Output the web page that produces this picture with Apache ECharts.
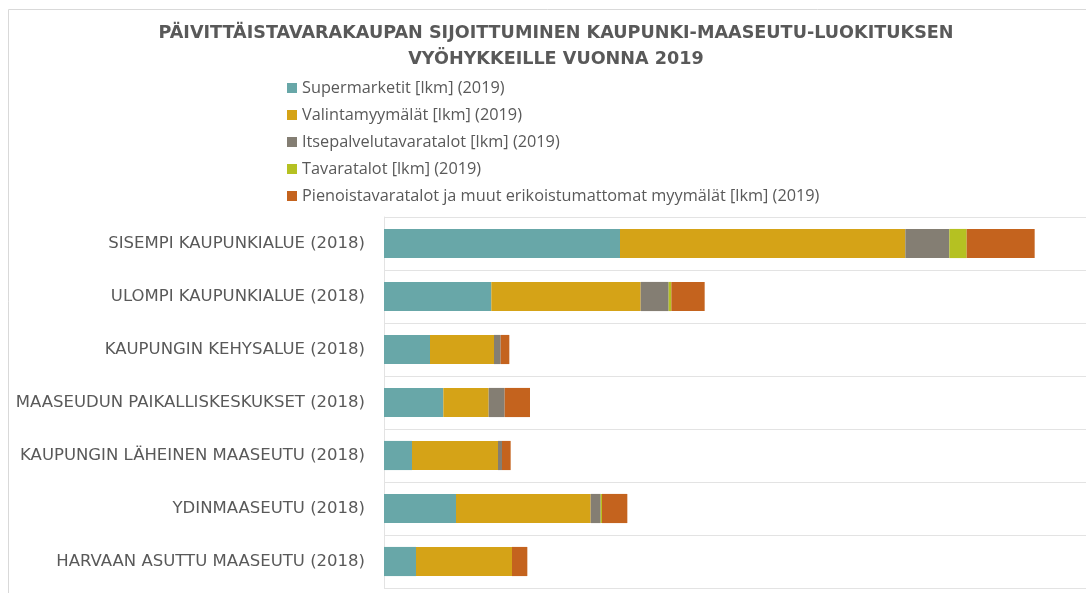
<!DOCTYPE html>
<html>
<head>
<meta charset="utf-8">
<script src="https://cdn.jsdelivr.net/npm/echarts@6/dist/echarts.min.js"></script>
<style>
  html, body { margin: 0; padding: 0; background: #fff; }
  #chart { width: 1086px; height: 593px; }
</style>
</head>
<body>
<div id="chart"></div>
<script>
// Alueluokat (ylhäältä alas)
const categories = [
  'SISEMPI KAUPUNKIALUE (2018)',
  'ULOMPI KAUPUNKIALUE (2018)',
  'KAUPUNGIN KEHYSALUE (2018)',
  'MAASEUDUN PAIKALLISKESKUKSET (2018)',
  'KAUPUNGIN LÄHEINEN MAASEUTU (2018)',
  'YDINMAASEUTU (2018)',
  'HARVAAN ASUTTU MAASEUTU (2018)'
]
const seriesNames = [
  'Supermarketit [lkm] (2019)',
  'Valintamyymälät [lkm] (2019)',
  'Itsepalvelutavaratalot [lkm] (2019)',
  'Tavaratalot [lkm] (2019)',
  'Pienoistavaratalot ja muut erikoistumattomat myymälät [lkm] (2019)'
]
// arvot luettu kuvasta (arvioita)
const supermarketit = [354, 161, 69, 89, 42, 108, 48]
const valintamyymalat = [428, 224, 96, 68, 129, 202, 144]
const itsepalvelu = [66, 42, 10, 24, 6, 15, 0]
const tavaratalot = [26, 4, 0, 0, 0, 2, 0]
const pienoistavaratalot = [102, 50, 13, 38, 13, 38, 23]

const colors = ['#68a7a8', '#d5a317', '#847e73', '#b5c122', '#c4631e']
const values = [supermarketit, valintamyymalat, itsepalvelu, tavaratalot, pienoistavaratalot]

let myChart = echarts.init(document.getElementById('chart'))

let option = {
  animation: false,
  color: colors,
  graphic: [{
    type: 'rect',
    shape: { x: 8.5, y: 9.5, width: 1100, height: 600 },
    style: { fill: 'none', stroke: '#d9d9d9', lineWidth: 1 },
    silent: true
  }],
  title: {
    text: 'PÄIVITTÄISTAVARAKAUPAN SIJOITTUMINEN KAUPUNKI-MAASEUTU-LUOKITUKSEN\nVYÖHYKKEILLE VUONNA 2019',
    left: 551,
    textAlign: 'center',
    top: 15,
    textStyle: {
      fontFamily: 'DejaVu Sans',
      fontWeight: 'bold',
      fontSize: 17.6,
      lineHeight: 26,
      color: '#595959'
    }
  },
  legend: {
    data: seriesNames,
    orient: 'vertical',
    left: 282,
    top: 74,
    icon: 'rect',
    itemWidth: 10,
    itemHeight: 10,
    itemGap: 9,
    textStyle: {
      fontFamily: 'Open Sans',
      fontSize: 16.3,
      lineHeight: 18,
      color: '#595959'
    }
  },
  grid: {
    left: 384,
    right: 0,
    top: 217,
    bottom: 5,
    containLabel: false
  },
  xAxis: {
    type: 'value',
    min: 0,
    max: 1053,
    show: false
  },
  yAxis: {
    type: 'category',
    data: categories,
    inverse: true,
    axisTick: { show: false },
    axisLine: { show: true, lineStyle: { color: '#e3e3e3' } },
    splitLine: { show: true, lineStyle: { color: '#e3e3e3' } },
    axisLabel: {
      margin: 19,
      fontFamily: 'DejaVu Sans',
      fontSize: 16.5,
      color: '#595959'
    }
  },
  series: seriesNames.map((name, i) => ({
    name: name,
    type: 'bar',
    stack: 'total',
    barWidth: '55%',
    data: values[i]
  }))
}
myChart.setOption(option)
</script>
</body>
</html>
